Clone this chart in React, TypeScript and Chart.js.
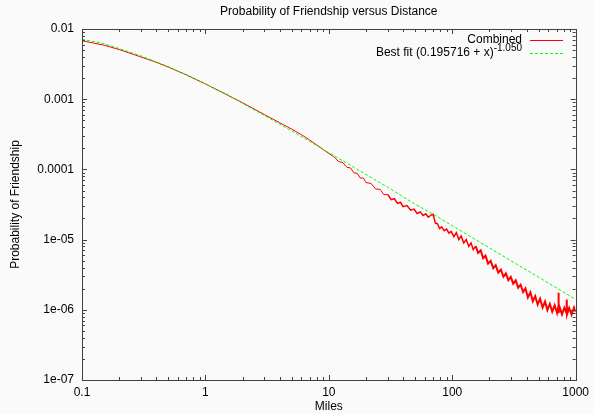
import React, { useEffect, useRef } from 'react';
import { Chart, registerables } from 'chart.js';

Chart.register(...registerables);

const titleText = 'Probability of Friendship versus Distance';
const xTitle = 'Miles';
const yTitle = 'Probability of Friendship';
const legendCombined = 'Combined';
const legendFit = 'Best fit (0.195716 + x)';
const legendFitExp = '-1.050';

const xTickValues = [0.1, 1, 10, 100, 1000];
const xTickLabels = ['0.1', '1', '10', '100', '1000'];
const yTickValues = [1e-7, 1e-6, 1e-5, 1e-4, 1e-3, 1e-2];
const yTickLabels = ['1e-07', '1e-06', '1e-05', '0.0001', '0.001', '0.01'];

const combinedMiles = [
  0.1, 0.15, 0.2, 0.3, 0.4, 0.5, 0.7, 1, 1.5, 2, 3, 4, 5, 6, 7, 8, 9, 10,
  11, 12, 13, 14, 15, 16, 17, 18, 19, 20, 22, 24, 26, 28, 30, 32, 34, 36, 38, 40,
  43, 46, 49, 52, 55, 58, 61, 64, 67, 70, 73, 76, 79, 82, 86, 90, 94, 98,
  103, 108, 113, 118, 124, 130, 136, 142, 148, 155, 162, 170, 178, 186, 195,
  205, 215, 225, 236, 248, 260, 272, 285, 298, 312, 327, 342, 358, 375, 392,
  410, 430, 450, 470, 492, 515, 540, 565, 590, 618, 646, 676, 707, 720, 725, 730,
  740, 775, 810, 843, 847, 851, 886, 927, 970, 1000,
];
const combinedProb = [
  0.0068, 0.0059, 0.0051, 0.004, 0.00335, 0.00287, 0.00222, 0.00165, 0.00115, 0.00089, 0.000605, 0.000462, 0.000375, 0.000312, 0.000262, 0.000222, 0.000192, 0.000168,
  1.52e-4, 1.29e-4, 1.25e-4, 1.07e-4, 1.05e-4, 8.9e-5, 8.8e-5, 7.5e-5, 7.6e-5, 6.5e-5, 6.3e-5, 5.25e-5, 5.2e-5, 4.35e-5, 4.4e-5, 3.7e-5, 3.82e-5, 3.28e-5, 3.4e-5, 2.95e-5,
  3.05e-5, 2.62e-5, 2.72e-5, 2.36e-5, 2.48e-5, 2.2e-5, 2.33e-5, 2.08e-5, 2.22e-5, 2.3e-5, 1.72e-5, 1.68e-5, 1.44e-5, 1.52e-5, 1.34e-5, 1.41e-5, 1.24e-5, 1.31e-5,
  1.1e-5, 1.25e-5, 1.0e-5, 1.13e-5, 8.95e-6, 1.0e-5, 8.0e-6, 8.98e-6, 7.2e-6, 8.07e-6, 6.45e-6, 7.04e-6, 5.43e-6, 5.91e-6, 4.55e-6,
  4.97e-6, 3.91e-6, 4.32e-6, 3.39e-6, 3.74e-6, 2.96e-6, 3.31e-6, 2.64e-6, 2.95e-6, 2.36e-6, 2.63e-6, 2.07e-6, 2.28e-6, 1.79e-6, 2.02e-6,
  1.5e-6, 1.78e-6, 1.32e-6, 1.57e-6, 1.19e-6, 1.44e-6, 1.08e-6, 1.31e-6, 0.99e-6, 1.21e-6, 0.94e-6, 1.16e-6, 0.9e-6, 1.05e-6, 1.75e-6, 0.9e-6,
  1.1e-6, 0.86e-6, 1.07e-6, 0.9e-6, 1.4e-6, 0.86e-6, 1.06e-6, 0.85e-6, 1.08e-6, 0.93e-6,
];

const fitMiles = [0.1, 0.15, 0.2, 0.3, 0.5, 0.7, 1, 1.5, 2, 3, 5, 7, 10, 20, 30, 50, 70, 100, 200, 300, 500, 700, 1000];
const fitProb = [
  0.00715, 0.00619, 0.00526, 0.00415, 0.00291, 0.00223, 0.00165, 0.001166, 0.000871, 0.000588, 0.000353, 0.00025,
  0.000173, 8.48e-5, 5.56e-5, 3.19e-5, 2.3e-5, 1.58e-5, 7.63e-6, 4.98e-6, 2.92e-6, 2.05e-6, 1.41e-6,
];

const FONT = '"Liberation Sans", Arial, sans-serif';
const BG = '#fafafa';
const TEXT = '#000000';
const FRAME = '#404040';
const RED = '#ff0000';
const GREEN = '#00ff00';

const decoPlugin = {
  id: 'deco',
  beforeDraw(chart: any) {
    const { ctx, width, height } = chart;
    ctx.save();
    ctx.fillStyle = BG;
    ctx.fillRect(0, 0, width, height);
    ctx.restore();
  },
  afterDatasetsDraw(chart: any) {
    const { ctx, chartArea } = chart;
    const { left, right, top, bottom } = chartArea;
    const xs = chart.scales.x;
    const ys = chart.scales.y;
    ctx.save();
    ctx.strokeStyle = FRAME;
    ctx.lineWidth = 1;
    ctx.beginPath();
    const line = (x1: number, y1: number, x2: number, y2: number) => {
      ctx.moveTo(x1, y1);
      ctx.lineTo(x2, y2);
    };
    for (let d = -1; d <= 3; d++) {
      for (let k = 1; k <= 9; k++) {
        const v = k * Math.pow(10, d);
        if (v > 1000 * 1.0001) break;
        const px = Math.round(xs.getPixelForValue(v)) + 0.5;
        const len = k === 1 ? 5 : 3;
        line(px, bottom, px, bottom - len);
        line(px, top, px, top + len);
      }
    }
    for (let d = -7; d <= -2; d++) {
      for (let k = 1; k <= 9; k++) {
        const v = k * Math.pow(10, d);
        if (v > 0.01 * 1.0001) break;
        const py = Math.round(ys.getPixelForValue(v)) + 0.5;
        const len = k === 1 ? 5 : 3;
        line(left, py, left + len, py);
        line(right, py, right - len, py);
      }
    }
    ctx.stroke();
    ctx.strokeRect(Math.round(left) + 0.5, Math.round(top) + 0.5, Math.round(right - left), Math.round(bottom - top));
    ctx.restore();
  },
  afterDraw(chart: any) {
    const { ctx, chartArea } = chart;
    const { left, right } = chartArea;
    ctx.save();
    ctx.fillStyle = TEXT;
    ctx.font = `12px ${FONT}`;
    ctx.textBaseline = 'middle';
    ctx.textAlign = 'center';
    ctx.fillText(titleText, (left + right) / 2, 12);

    const textRight = 522;
    const sampleL = 530;
    const sampleR = 563;
    const row1 = 40;
    const row2 = 53;
    ctx.textAlign = 'right';
    ctx.fillText(legendCombined, textRight, row1);
    ctx.font = `10px ${FONT}`;
    const expW = ctx.measureText(legendFitExp).width;
    ctx.fillText(legendFitExp, textRight, row2 - 5);
    ctx.font = `12px ${FONT}`;
    ctx.fillText(legendFit, textRight - expW, row2);

    ctx.lineWidth = 1;
    ctx.strokeStyle = RED;
    ctx.beginPath();
    ctx.moveTo(sampleL, row1 + 0.5);
    ctx.lineTo(sampleR, row1 + 0.5);
    ctx.stroke();
    ctx.strokeStyle = GREEN;
    ctx.setLineDash([3, 2]);
    ctx.beginPath();
    ctx.moveTo(sampleL, row2 + 0.5);
    ctx.lineTo(sampleR, row2 + 0.5);
    ctx.stroke();
    ctx.restore();
  },
};

export default function App() {
  const ref = useRef<HTMLCanvasElement>(null);
  useEffect(() => {
    const canvas = ref.current;
    if (!canvas) return;
    const chart = new Chart(canvas, {
      type: 'line',
      data: {
        datasets: [
          {
            label: legendCombined,
            data: combinedMiles.map((m, i) => ({ x: m, y: combinedProb[i] })),
            borderColor: RED,
            borderWidth: 1,
            pointRadius: 0,
            tension: 0,
            fill: false,
            order: 1,
            segment: {
              borderWidth: (ctx: any) => (ctx.p0.parsed.x >= 150 ? 2 : ctx.p0.parsed.x >= 30 ? 1.5 : 1),
            },
          },
          {
            label: legendFit,
            data: fitMiles.map((m, i) => ({ x: m, y: fitProb[i] })),
            borderColor: GREEN,
            borderWidth: 1,
            borderDash: [3, 2],
            pointRadius: 0,
            tension: 0,
            fill: false,
            order: 0,
          },
        ],
      },
      options: {
        responsive: false,
        animation: false,
        devicePixelRatio: 1,
        layout: { padding: { top: 29, right: 17, bottom: 0, left: 0 } },
        plugins: {
          legend: { display: false },
          title: { display: false },
          tooltip: { enabled: false },
        },
        scales: {
          x: {
            type: 'logarithmic',
            min: 0.1,
            max: 1000,
            grid: { display: false, drawTicks: false },
            border: { display: false },
            afterBuildTicks: (scale: any) => {
              scale.ticks = xTickValues.map((v) => ({ value: v }));
            },
            afterFit: (scale: any) => {
              scale.height = 34;
            },
            ticks: {
              autoSkip: false,
              maxRotation: 0,
              color: TEXT,
              padding: 5,
              font: { family: FONT, size: 12 },
              callback: (_v: any, i: number) => xTickLabels[i],
            },
            title: {
              display: true,
              text: xTitle,
              color: TEXT,
              font: { family: FONT, size: 12 },
              padding: { top: -3, bottom: 0 },
            },
          },
          y: {
            type: 'logarithmic',
            min: 1e-7,
            max: 0.01,
            grid: { display: false, drawTicks: false },
            border: { display: false },
            afterBuildTicks: (scale: any) => {
              scale.ticks = yTickValues.map((v) => ({ value: v }));
            },
            afterFit: (scale: any) => {
              scale.width = 82;
            },
            ticks: {
              autoSkip: false,
              color: TEXT,
              padding: 8,
              font: { family: FONT, size: 12 },
              callback: (_v: any, i: number) => yTickLabels[i],
            },
            title: {
              display: true,
              text: yTitle,
              color: TEXT,
              font: { family: FONT, size: 12 },
              padding: { top: 8, bottom: 0 },
            },
          },
        },
      },
      plugins: [decoPlugin],
    } as any);
    return () => chart.destroy();
  }, []);
  return (
    <div style={{ position: 'fixed', left: 0, top: 0, width: 594, height: 414, background: BG }}>
      <canvas ref={ref} width={594} height={414} style={{ display: 'block' }} />
    </div>
  );
}
